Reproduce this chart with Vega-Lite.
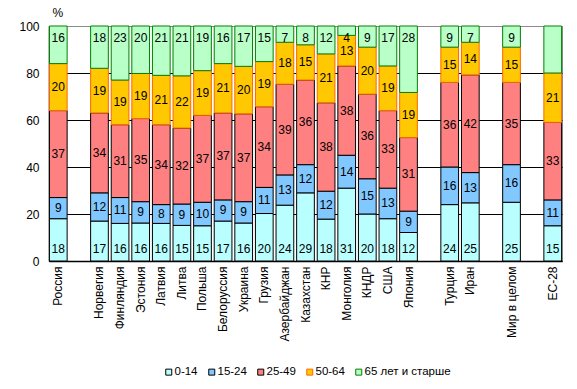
{
  "$schema": "https://vega.github.io/schema/vega-lite/v6.json",
  "autosize": "none",
  "width": 513,
  "height": 235,
  "padding": {"left": 49, "top": 26, "right": 15, "bottom": 128},
  "background": "white",
  "config": {
    "font": "Liberation Sans",
    "view": {"stroke": "#8c8c8c", "strokeWidth": 1}
  },
  "data": {
    "values": [
      {"country": "Россия", "group": "0-14", "value": 18},
      {"country": "Россия", "group": "15-24", "value": 9},
      {"country": "Россия", "group": "25-49", "value": 37},
      {"country": "Россия", "group": "50-64", "value": 20},
      {"country": "Россия", "group": "65 лет и старше", "value": 16},
      {"country": "Норвегия", "group": "0-14", "value": 17},
      {"country": "Норвегия", "group": "15-24", "value": 12},
      {"country": "Норвегия", "group": "25-49", "value": 34},
      {"country": "Норвегия", "group": "50-64", "value": 19},
      {"country": "Норвегия", "group": "65 лет и старше", "value": 18},
      {"country": "Финляндия", "group": "0-14", "value": 16},
      {"country": "Финляндия", "group": "15-24", "value": 11},
      {"country": "Финляндия", "group": "25-49", "value": 31},
      {"country": "Финляндия", "group": "50-64", "value": 19},
      {"country": "Финляндия", "group": "65 лет и старше", "value": 23},
      {"country": "Эстония", "group": "0-14", "value": 16},
      {"country": "Эстония", "group": "15-24", "value": 9},
      {"country": "Эстония", "group": "25-49", "value": 35},
      {"country": "Эстония", "group": "50-64", "value": 19},
      {"country": "Эстония", "group": "65 лет и старше", "value": 20},
      {"country": "Латвия", "group": "0-14", "value": 16},
      {"country": "Латвия", "group": "15-24", "value": 8},
      {"country": "Латвия", "group": "25-49", "value": 34},
      {"country": "Латвия", "group": "50-64", "value": 21},
      {"country": "Латвия", "group": "65 лет и старше", "value": 21},
      {"country": "Литва", "group": "0-14", "value": 15},
      {"country": "Литва", "group": "15-24", "value": 9},
      {"country": "Литва", "group": "25-49", "value": 32},
      {"country": "Литва", "group": "50-64", "value": 22},
      {"country": "Литва", "group": "65 лет и старше", "value": 21},
      {"country": "Польша", "group": "0-14", "value": 15},
      {"country": "Польша", "group": "15-24", "value": 10},
      {"country": "Польша", "group": "25-49", "value": 37},
      {"country": "Польша", "group": "50-64", "value": 19},
      {"country": "Польша", "group": "65 лет и старше", "value": 19},
      {"country": "Белоруссия", "group": "0-14", "value": 17},
      {"country": "Белоруссия", "group": "15-24", "value": 9},
      {"country": "Белоруссия", "group": "25-49", "value": 37},
      {"country": "Белоруссия", "group": "50-64", "value": 21},
      {"country": "Белоруссия", "group": "65 лет и старше", "value": 16},
      {"country": "Украина", "group": "0-14", "value": 16},
      {"country": "Украина", "group": "15-24", "value": 9},
      {"country": "Украина", "group": "25-49", "value": 37},
      {"country": "Украина", "group": "50-64", "value": 20},
      {"country": "Украина", "group": "65 лет и старше", "value": 17},
      {"country": "Грузия", "group": "0-14", "value": 20},
      {"country": "Грузия", "group": "15-24", "value": 11},
      {"country": "Грузия", "group": "25-49", "value": 34},
      {"country": "Грузия", "group": "50-64", "value": 19},
      {"country": "Грузия", "group": "65 лет и старше", "value": 15},
      {"country": "Азербайджан", "group": "0-14", "value": 24},
      {"country": "Азербайджан", "group": "15-24", "value": 13},
      {"country": "Азербайджан", "group": "25-49", "value": 39},
      {"country": "Азербайджан", "group": "50-64", "value": 18},
      {"country": "Азербайджан", "group": "65 лет и старше", "value": 7},
      {"country": "Казахстан", "group": "0-14", "value": 29},
      {"country": "Казахстан", "group": "15-24", "value": 12},
      {"country": "Казахстан", "group": "25-49", "value": 36},
      {"country": "Казахстан", "group": "50-64", "value": 15},
      {"country": "Казахстан", "group": "65 лет и старше", "value": 8},
      {"country": "КНР", "group": "0-14", "value": 18},
      {"country": "КНР", "group": "15-24", "value": 12},
      {"country": "КНР", "group": "25-49", "value": 38},
      {"country": "КНР", "group": "50-64", "value": 21},
      {"country": "КНР", "group": "65 лет и старше", "value": 12},
      {"country": "Монголия", "group": "0-14", "value": 31},
      {"country": "Монголия", "group": "15-24", "value": 14},
      {"country": "Монголия", "group": "25-49", "value": 38},
      {"country": "Монголия", "group": "50-64", "value": 13},
      {"country": "Монголия", "group": "65 лет и старше", "value": 4},
      {"country": "КНДР", "group": "0-14", "value": 20},
      {"country": "КНДР", "group": "15-24", "value": 15},
      {"country": "КНДР", "group": "25-49", "value": 36},
      {"country": "КНДР", "group": "50-64", "value": 20},
      {"country": "КНДР", "group": "65 лет и старше", "value": 9},
      {"country": "США", "group": "0-14", "value": 18},
      {"country": "США", "group": "15-24", "value": 13},
      {"country": "США", "group": "25-49", "value": 33},
      {"country": "США", "group": "50-64", "value": 19},
      {"country": "США", "group": "65 лет и старше", "value": 17},
      {"country": "Япония", "group": "0-14", "value": 12},
      {"country": "Япония", "group": "15-24", "value": 9},
      {"country": "Япония", "group": "25-49", "value": 31},
      {"country": "Япония", "group": "50-64", "value": 19},
      {"country": "Япония", "group": "65 лет и старше", "value": 28},
      {"country": "Турция", "group": "0-14", "value": 24},
      {"country": "Турция", "group": "15-24", "value": 16},
      {"country": "Турция", "group": "25-49", "value": 36},
      {"country": "Турция", "group": "50-64", "value": 15},
      {"country": "Турция", "group": "65 лет и старше", "value": 9},
      {"country": "Иран", "group": "0-14", "value": 25},
      {"country": "Иран", "group": "15-24", "value": 13},
      {"country": "Иран", "group": "25-49", "value": 42},
      {"country": "Иран", "group": "50-64", "value": 14},
      {"country": "Иран", "group": "65 лет и старше", "value": 7},
      {"country": "Мир в целом", "group": "0-14", "value": 25},
      {"country": "Мир в целом", "group": "15-24", "value": 16},
      {"country": "Мир в целом", "group": "25-49", "value": 35},
      {"country": "Мир в целом", "group": "50-64", "value": 15},
      {"country": "Мир в целом", "group": "65 лет и старше", "value": 9},
      {"country": "ЕС-28", "group": "0-14", "value": 15},
      {"country": "ЕС-28", "group": "15-24", "value": 11},
      {"country": "ЕС-28", "group": "25-49", "value": 33},
      {"country": "ЕС-28", "group": "50-64", "value": 21},
      {"country": "ЕС-28", "group": "65 лет и старше", "value": 20}
    ]
  },
  "encoding": {
    "x": {
      "field": "country",
      "type": "nominal",
      "scale": {
        "domain": ["Россия", " ", "Норвегия", "Финляндия", "Эстония", "Латвия", "Литва", "Польша", "Белоруссия", "Украина", "Грузия", "Азербайджан", "Казахстан", "КНР", "Монголия", "КНДР", "США", "Япония", "  ", "Турция", "Иран", "   ", "Мир в целом", "    ", "ЕС-28"],
        "paddingInner": 0.14,
        "paddingOuter": 0.02
      },
      "axis": {
        "title": null,
        "labelAngle": -90,
        "labelFontSize": 12,
        "labelColor": "black",
        "labelPadding": 5,
        "ticks": false,
        "domainColor": "black",
        "domainWidth": 1.5,
        "grid": false
      }
    }
  },
  "layer": [
    {
      "mark": {"type": "bar", "strokeWidth": 1},
      "encoding": {
        "y": {
          "field": "value",
          "type": "quantitative",
          "stack": "normalize",
          "scale": {"domain": [0, 1], "nice": false},
          "axis": {
            "title": "%",
            "titleAngle": 0,
            "titleAlign": "left",
            "titleBaseline": "bottom",
            "titleX": 3,
            "titleY": -7,
            "titleFontSize": 12,
            "titleFontWeight": "normal",
            "titleColor": "black",
            "values": [0, 0.1, 0.2, 0.3, 0.4, 0.5, 0.6, 0.7, 0.8, 0.9, 1],
            "labelExpr": "format(datum.value * 100, 'd')",
            "labelFontSize": 12,
            "labelColor": "black",
            "labelPadding": 10,
            "ticks": false,
            "domainColor": "black",
            "domainWidth": 1.5,
            "grid": true,
            "gridColor": {"condition": {"test": "datum.value >= 1", "value": "#8c8c8c"}, "value": "black"},
            "gridOpacity": 1,
            "gridWidth": 1
          }
        },
        "order": {"field": "group", "sort": "ascending"},
        "fill": {
          "field": "group",
          "type": "nominal",
          "scale": {
            "domain": ["0-14", "15-24", "25-49", "50-64", "65 лет и старше"],
            "range": ["#B9FFFF", "#80C8FF", "#FF8080", "#FFC800", "#B8FFC8"]
          },
          "legend": {
            "title": null,
            "orient": "none",
            "direction": "horizontal",
            "legendX": 114,
            "legendY": 340,
            "symbolType": "square",
            "symbolSize": 36,
            "symbolStrokeWidth": 1,
            "labelFontSize": 11.5,
            "labelColor": "black",
            "labelOffset": 0,
            "columnPadding": 8
          }
        },
        "stroke": {
          "field": "group",
          "type": "nominal",
          "scale": {
            "domain": ["0-14", "15-24", "25-49", "50-64", "65 лет и старше"],
            "range": ["#000000", "#000000", "#000000", "#FF6600", "#008000"]
          },
          "legend": null
        }
      }
    },
    {
      "mark": {"type": "text", "fontSize": 12, "color": "black", "baseline": "middle"},
      "encoding": {
        "y": {"field": "value", "type": "quantitative", "stack": "normalize", "bandPosition": 0.5},
        "detail": {"field": "group"},
        "order": {"field": "group", "sort": "ascending"},
        "text": {
          "condition": {"test": "datum.group === '0-14' || datum.group === '65 лет и старше'", "value": ""},
          "field": "value",
          "type": "quantitative"
        }
      }
    },
    {
      "transform": [{"filter": "datum.group === '0-14'"}],
      "mark": {"type": "text", "fontSize": 12, "color": "black", "baseline": "alphabetic", "dy": -8},
      "encoding": {
        "y": {"datum": 0, "type": "quantitative"},
        "text": {"field": "value", "type": "quantitative"}
      }
    },
    {
      "transform": [{"filter": "datum.group === '65 лет и старше' && datum.country !== 'ЕС-28'"}],
      "mark": {"type": "text", "fontSize": 12, "color": "black", "baseline": "alphabetic", "dy": 16},
      "encoding": {
        "y": {"datum": 1, "type": "quantitative"},
        "text": {"field": "value", "type": "quantitative"}
      }
    }
  ]
}
